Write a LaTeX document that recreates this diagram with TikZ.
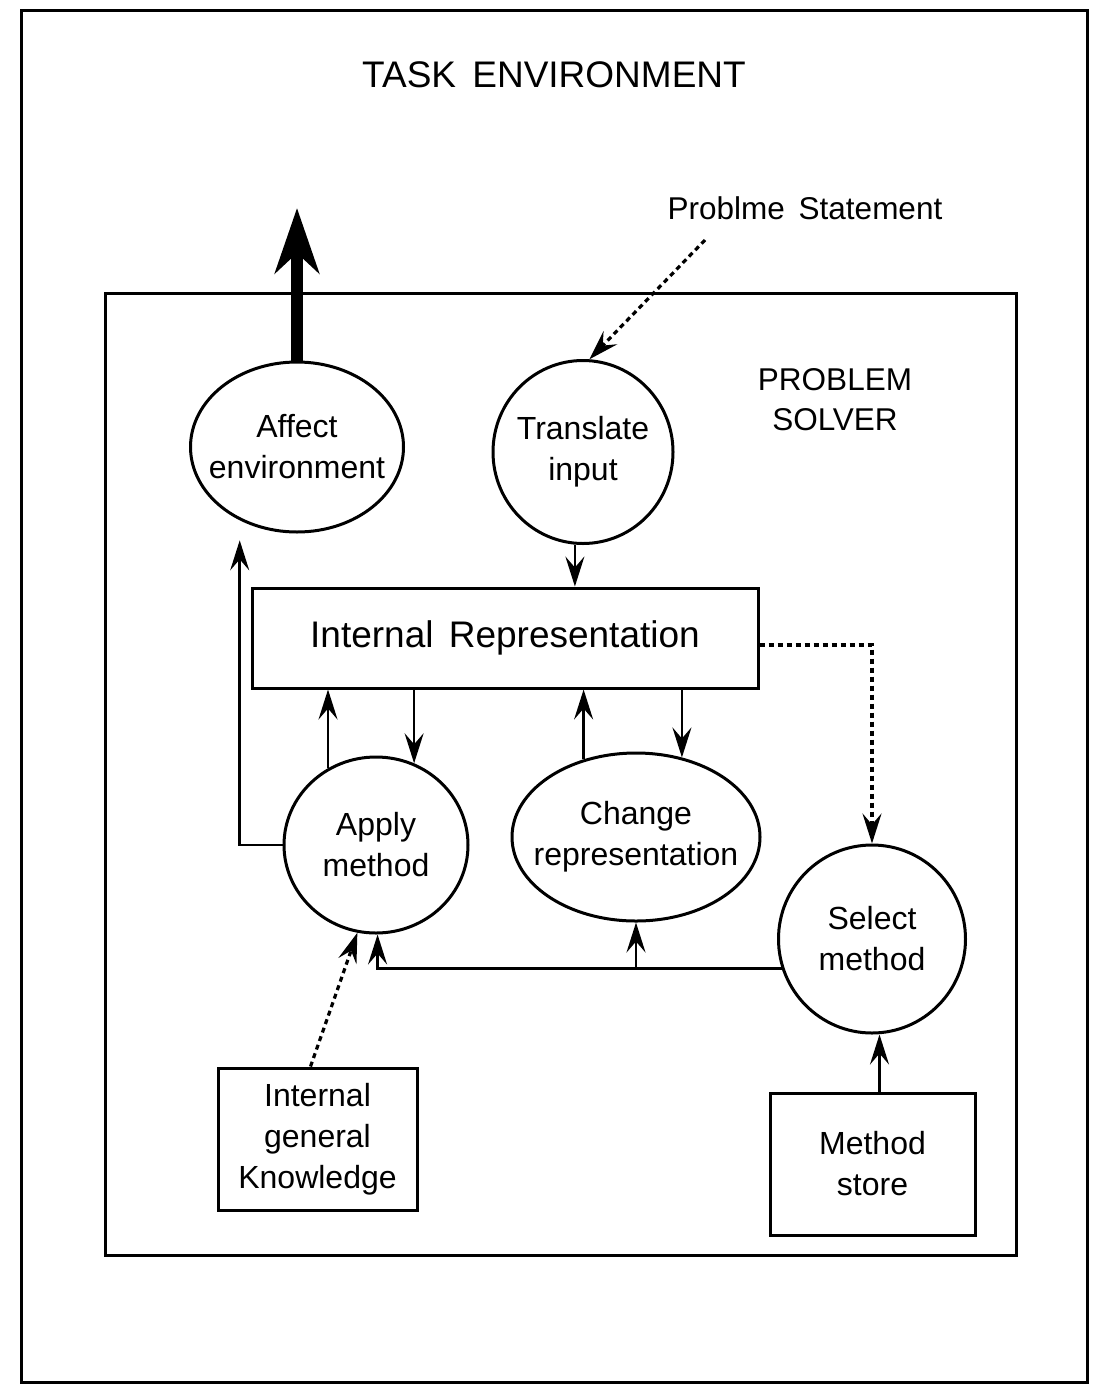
\documentclass[tikz,border=0pt]{standalone}
\usepackage{fontspec}
\setmainfont{Liberation Sans}
\usetikzlibrary{arrows.meta,shapes.geometric,calc}
\tikzset{
  bx/.style={draw, line width=3pt, inner sep=0pt},
  ell/.style={draw, ellipse, line width=3pt, inner sep=-45pt},
  txt/.style={font=\fontsize{32}{41}\selectfont, align=center},
  arr/.style={line width=2.5pt, -{Stealth[length=30pt,width=19pt,inset=11pt]}},
  dotarr/.style={arr, line width=3.2pt, dash pattern=on 5pt off 4pt},
}
\begin{document}
\begin{tikzpicture}[x=1pt,y=-1pt]
\useasboundingbox (0,0) rectangle (1094,1395);
% boxes
\node[bx, minimum width=1066pt, minimum height=1372pt] (env) at (554,696) {};
\node[bx, minimum width=911pt, minimum height=962pt] (solver) at (560.5,774) {};
% labels
\node[font=\fontsize{37}{40}\selectfont] (title) at (554,75) {TASK\hspace{6pt} ENVIRONMENT};
\node[font=\fontsize{31.5}{40}\selectfont] (ps) at (805,208) {Problme\hspace{5pt} Statement};
\node[align=center, font=\fontsize{31.5}{40}\selectfont] (pslabel) at (835,400) {PROBLEM\\SOLVER};
% process nodes
\node[ell, txt, minimum width=213pt, minimum height=170pt] (ae) at (297,447) {Affect\\environment};
\node[ell, txt, minimum width=180pt, minimum height=183pt] (ti) at (583,452) {Translate\\input};
\node[bx, minimum width=506pt, minimum height=100pt, font=\fontsize{37}{40}\selectfont] (ir) at (505,638) {Internal\hspace{5pt} Representation};
\node[ell, txt, minimum width=184pt, minimum height=176pt] (am) at (376,845) {Apply\\method};
\node[ell, txt, minimum width=248pt, minimum height=168pt] (cr) at (636,837) {Change\\representation};
\node[ell, txt, minimum width=187pt, minimum height=188pt] (sm) at (872,939) {Select\\method};
\node[bx, txt, minimum width=199pt, minimum height=142pt] (igk) at (317.5,1139) {Internal\\general\\Knowledge};
\node[bx, txt, minimum width=205pt, minimum height=142pt] (ms) at (872.5,1164) {Method\\store};
% connectors
\coordinate (out) at (297,208);
\draw[line width=12pt, -{Stealth[length=65pt,width=44pt,inset=20pt]}] (ae.north) -- (out);
\coordinate (psx) at (705,240);
\draw[dotarr] (psx) -- (ti.86);
\draw[arr] (ti.265) -- (ti.265 |- ir.north);
\draw[dotarr] ([yshift=-7pt]ir.east) -| (sm.north);
\draw[arr] (am.122) -- (am.122 |- ir.south);
\draw[arr] (am.65 |- ir.south) -- (am.65);
\draw[arr] (cr.124) -- (cr.124 |- ir.south);
\draw[arr] (cr.60 |- ir.south) -- (cr.60);
\draw[arr, shorten >=20pt] (am.west) -| (ae.232);
\draw[arr] (sm.198) -| (am.271);
\draw[arr] (cr.south |- sm.198) -- (cr.south);
\draw[dotarr] ([xshift=-7pt]igk.north) -- (am.258);
\draw[arr] ([xshift=7pt]ms.north) -- ([xshift=7pt]ms.north |- sm.south);
\end{tikzpicture}
\end{document}
